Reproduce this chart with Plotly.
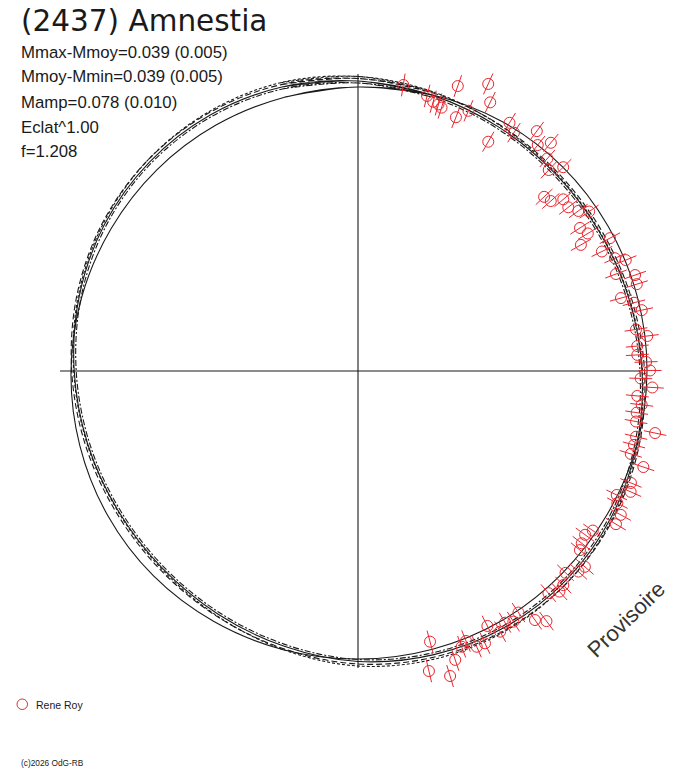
import plotly.graph_objects as go

# ---------------- text ----------------
TITLE = "(2437) Amnestia"
INFO_LINES = [
    "Mmax-Mmoy=0.039 (0.005)",
    "Mmoy-Mmin=0.039 (0.005)",
    "Mamp=0.078 (0.010)",
    "Eclat^1.00",
    "f=1.208",
]
OBSERVER = "Rene Roy"
WATERMARK = "Provisoire"
FOOTER = "(c)2026 OdG-RB"

# ---------------- observations (phase in degrees, radial value) ----------------
phase_deg = [
    9.0, 14.1, 15.6, 16.8, 17.6, 19.3, 21.1, 23.0, 24.4, 26.2,
    29.6, 31.4, 33.2, 36.7, 38.5, 40.2, 41.7, 43.5, 45.2, 46.9,
    48.6, 50.1, 52.1, 54.0, 55.4, 57.2, 59.1, 60.5, 62.2, 63.9,
    66.3, 67.5, 69.4, 70.9, 72.7, 74.5, 76.1, 77.9, 81.5, 83.1,
    84.9, 86.7, 88.2, 89.9, 91.5, 93.2, 95.1, 96.8, 98.5, 100.3,
    101.8, 103.3, 105.0, 106.9, 108.6, 112.3, 113.9, 115.6, 117.0, 118.7,
    120.7, 124.2, 125.8, 127.6, 128.9, 130.8, 132.3, 134.2, 136.2, 137.6,
    139.4, 143.0, 144.6, 146.4, 148.2, 149.7, 151.4, 153.1, 155.0, 156.7,
    158.2, 159.4, 161.4, 163.2, 165.1, 166.7,
]
radius = [
    289.6, 283.6, 279.6, 278.5, 276.3, 301.9, 272.0, 282.7, 315.2, 299.4,
    263.7, 290.8, 284.8, 299.2, 288.7, 298.8, 284.7, 277.1, 289.2, 254.9,
    257.0, 267.6, 266.5, 272.3, 280.8, 264.1, 267.8, 256.1, 284.8, 271.6,
    280.6, 289.8, 275.6, 293.2, 292.0, 272.9, 284.3, 290.2, 281.1, 291.4,
    280.4, 279.8, 288.2, 292.0, 282.8, 294.8, 280.4, 285.7, 281.8, 282.6,
    303.5, 285.7, 285.7, 285.1, 301.1, 295.0, 298.2, 286.9, 291.1, 299.6,
    300.0, 283.9, 280.0, 282.4, 285.2, 299.7, 298.0, 289.5, 296.6, 298.7,
    292.6, 313.2, 305.5, 290.0, 294.9, 291.5, 296.9, 285.9, 300.5, 300.2,
    290.8, 294.6, 304.8, 318.6, 280.1, 308.3,
]
ERR = 11.5

# ---------------- model curves (radial value every 15 degrees) ----------------
curve_angles = list(range(0, 360, 15))
fit_solid = [290.0, 285.6, 281.6, 279.0, 278.6, 280.4, 284.0, 288.4, 292.4, 295.0, 295.4, 293.6,
             290.5, 285.0, 280.5, 277.8, 277.6, 280.0, 283.8, 288.6, 292.8, 295.2, 295.6, 294.0]
fit_dash = [292.5, 288.1, 284.1, 281.5, 281.1, 282.9, 286.5, 290.9, 294.9, 297.5, 297.9, 296.1,
            293.0, 287.5, 283.0, 280.3, 280.1, 282.5, 286.3, 291.1, 295.3, 297.7, 298.1, 296.5]
fit_dashdot = [288.0, 283.6, 279.6, 277.0, 276.6, 278.4, 282.0, 286.4, 290.4, 293.0, 293.4, 291.6,
               288.5, 283.0, 278.5, 275.8, 275.6, 278.0, 281.8, 286.6, 290.8, 293.2, 293.6, 292.0]
fit_dot = [294.5, 289.1, 283.6, 280.0, 279.1, 280.9, 284.5, 289.4, 293.9, 297.5, 298.9, 298.1,
           295.0, 288.5, 282.5, 278.8, 278.1, 280.5, 284.3, 289.6, 294.3, 297.7, 299.1, 298.5]
fit_thin = [284.0, 286.0, 288.0, 289.0, 289.0, 289.0, 289.0, 288.5, 287.5, 287.5, 288.0, 288.0,
            288.0, 288.5, 289.0, 289.5, 289.0, 288.0, 287.0, 286.0, 285.0, 284.5, 284.0, 283.5]

# cross axes: direction (deg) and length (radial units)
axis_angles = [0, 90, 180, 270]
axis_lengths = [297, 282, 297, 298]

RED = "#e8262e"
INK = "#1a1a1a"

fig = go.Figure()


def closed(vals):
    th = [curve_angles[-1] - 360] + curve_angles + [360, 375]
    rr = [vals[-1]] + vals + [vals[0], vals[1]]
    return th, rr


for a, L in zip(axis_angles, axis_lengths):
    fig.add_trace(go.Scatterpolar(theta=[a, a], r=[0, L], mode="lines",
                                  line=dict(color=INK, width=1.1), hoverinfo="skip"))

for vals, dash in [
    (fit_thin, "solid"),
    (fit_solid, "solid"),
    (fit_dash, "6px,3px"),
    (fit_dashdot, "6px,2px,2px,2px"),
    (fit_dot, "3px,2px"),
]:
    th, rr = closed(vals)
    fig.add_trace(go.Scatterpolar(theta=th, r=rr, mode="lines",
                                  line=dict(color=INK, width=1.1, dash=dash, shape="spline", smoothing=1),
                                  hoverinfo="skip"))

eb_theta, eb_r = [], []
for t, r in zip(phase_deg, radius):
    eb_theta += [t, t, None]
    eb_r += [r - ERR, r + ERR, None]
fig.add_trace(go.Scatterpolar(theta=eb_theta, r=eb_r, mode="lines",
                              line=dict(color=RED, width=1), hoverinfo="skip"))
fig.add_trace(go.Scatterpolar(theta=phase_deg, r=radius, mode="markers",
                              marker=dict(symbol="circle-open", size=11, color=RED,
                                          line=dict(color=RED, width=1)),
                              name=OBSERVER))

W, H = 688, 768
ann = []
ann.append(dict(text=TITLE, x=19 / W, y=1 - 21 / H, xref="paper", yref="paper",
                xanchor="left", yanchor="middle", showarrow=False,
                font=dict(family="DejaVu Sans", size=29.5, color=INK)))
for i, line in enumerate(INFO_LINES):
    ann.append(dict(text=line, x=19 / W, y=1 - (52 + 25 * i - (1 if i == 4 else 0)) / H,
                    xref="paper", yref="paper", xanchor="left", yanchor="middle",
                    showarrow=False,
                    font=dict(family="Liberation Sans, Arial", size=16.8, color=INK)))
ann.append(dict(text=OBSERVER, x=34 / W, y=1 - 705 / H, xref="paper", yref="paper",
                xanchor="left", yanchor="middle", showarrow=False,
                font=dict(family="Liberation Sans, Arial", size=10.5, color=INK)))
ann.append(dict(text=FOOTER, x=19 / W, y=1 - 763 / H, xref="paper", yref="paper",
                xanchor="left", yanchor="middle", showarrow=False,
                font=dict(family="Liberation Sans, Arial", size=8.3, color=INK)))
ann.append(dict(text=WATERMARK, x=626 / W, y=1 - 619 / H, xref="paper", yref="paper",
                xanchor="center", yanchor="middle", showarrow=False, textangle=-44,
                font=dict(family="Liberation Sans, Arial", size=22, color="#333333")))

fig.update_layout(
    width=W, height=H, autosize=False,
    template="none",
    margin=dict(l=0, r=0, t=0, b=0),
    paper_bgcolor="white", plot_bgcolor="white",
    showlegend=False,
    annotations=ann,
    shapes=[dict(type="circle", xref="paper", yref="paper",
                 x0=17 / W, x1=27.5 / W, y0=1 - 709.5 / H, y1=1 - 699 / H,
                 line=dict(color=RED, width=1))],
    polar=dict(
        domain=dict(x=[28 / W, 1.0], y=[67 / H, 727 / H]),
        bgcolor="white",
        radialaxis=dict(range=[0, 330], visible=False),
        angularaxis=dict(visible=False, direction="clockwise", rotation=90),
    ),
)

fig.write_html("out.html", config={"displayModeBar": False},
               post_script="document.body.style.margin='0';")
